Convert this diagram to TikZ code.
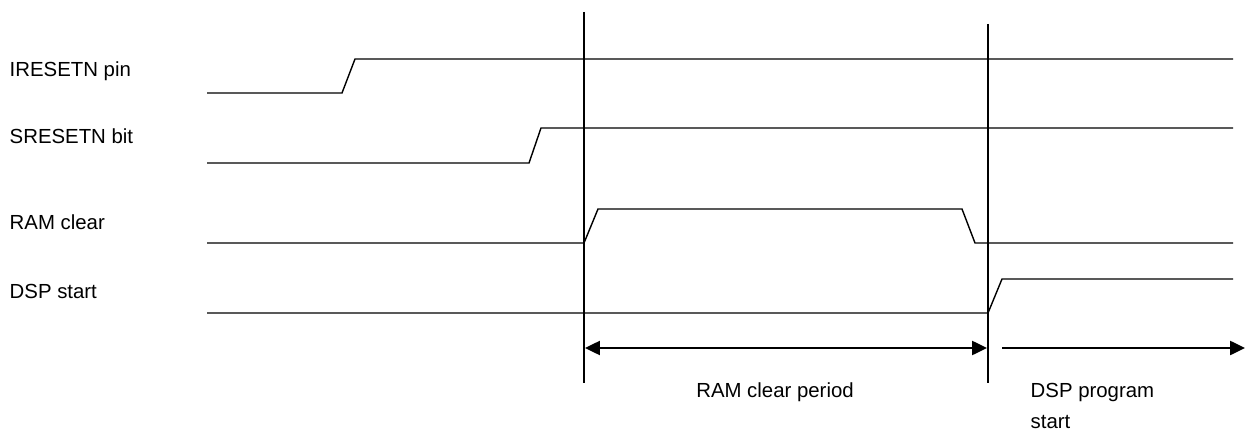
\documentclass[tikz,border=0pt]{standalone}
\usepackage{fontspec}
\setmainfont{Liberation Sans}
\usetikzlibrary{arrows.meta}
\begin{document}
\begin{tikzpicture}[x=0.02cm, y=-0.02cm, line width=0.8pt, font=\fontsize{11.6}{14}\selectfont,
    lbl/.style={anchor=base west, inner sep=0pt},
    span/.style={line width=1.2pt, -{Triangle[length=8.5pt, width=8pt]}}]
	  \useasboundingbox (0,0) rectangle (1247,432);
	  % signal names
	  \node[lbl] (irst) at (9,77) {IRESETN pin};
	  \node[lbl] (srst) at (9,144) {SRESETN bit};
	  \node[lbl] (ramclr) at (9,230) {RAM clear};
	  \node[lbl] (dspst) at (9,298) {DSP start};
	  % time markers
	  \coordinate (t1top) at (584,12);
	  \coordinate (t1bot) at (584,383);
	  \coordinate (t2top) at (988,24);
	  \coordinate (t2bot) at (988,383);
	  \draw (t1top) -- (t1bot);
	  \draw (t2top) -- (t2bot);
	  % waveforms
	  \draw (207,93) -- (342,93) -- (355,59) -- (1233,59);
	  \draw (207,163) -- (529,163) -- (541,128) -- (1233,128);
	  \draw (207,243) -- (584,243) -- (598,209) -- (962,209) -- (975,243) -- (1233,243);
	  \draw (207,313) -- (988,313) -- (1002,279) -- (1233,279);
	  % periods
	  \coordinate (p1a) at (585,348);
	  \coordinate (p1b) at (987,348);
	  \coordinate (p2a) at (1002,348);
	  \coordinate (p2b) at (1245,348);
	  \draw[span, {Triangle[length=8.5pt, width=8pt]}-{Triangle[length=8.5pt, width=8pt]}] (p1a) -- (p1b);
	  \draw[span] (p2a) -- (p2b);
	  \node[inner sep=0pt, anchor=base] (clrper) at (775,397) {RAM clear period};
	  \node[lbl] (dspprog) at (1030,397) {DSP program};
	  \node[lbl] (dspprog2) at (1030,428) {start};
	\end{tikzpicture}
\end{document}
